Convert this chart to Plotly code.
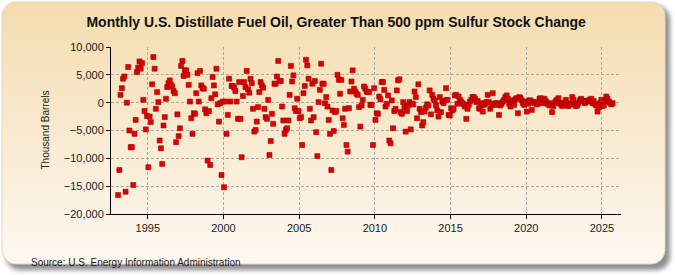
import base64
import pandas as pd
import plotly.graph_objects as go

# monthly stock change, thousand barrels (Jan 1993 onwards)
chg_1993_96 = [  # Jan 1993 - Apr 1996
    -16600, -12100, 1400, 2600, 4300, 4700, -16000, 0, 6400, -5000, -8000, -8000,
    -14800, -5600, -3100, 5500, 6300, 7400, 6100, 7100, 500, -1500, -4800, -2400,
    -11600, -2500, -3500, 3300, 8200, 6100, -1100, 1900, 100, -6800, -8200, -11000,
    -4100, -2600, 700, 2800,
]
chg_1996_00 = [  # May 1996 - Jan 2000
    3500, 4000, 3200, 2900, 2100, 1700, -7100, -2100, -6000, -4600,
    6600, 7500, 4800, 5800, 5800, 5000, 3200, 200, -2800, -5600,
    -1900, -2000, 1700, 5300, 200, 5700, 3100, 2600, 2500, -1200,
    -1900, -10400, -1500, -11200, 800, 4600, 3100, 1500, 6100, -300,
    -3400, -100, -13000, 200, -15200,
]
chg_2000_04 = [  # Feb 2000 - Feb 2004
    200, -5600, -2200, 4300, 200, 3000, 3000, 2700, 2100, 200,
    -2900, 3700, -2900, -9800, 1200, 3700, 2800, 5700, 2400, 1800,
    4300, 3500, -1100, -5200, -4900, -3400, -800, 1900, 3700, 3100,
    2700, -1100, -2600, -2900, 500, -9400, -6900, -2000, -3800, 3400,
    3400, 4700, 7500, 3900, 3900, -700, -3200, -5600, -4900,
]
chg_2004_07 = [  # Mar 2004 - Oct 2007
    -4600, -3200, 1400, 6600, 3800, 4900, -1000, -1500, 700, -1500,
    -2800, -2600, -7600, 1700, 3000, 7700, 6700, 4300, -1100, -3200,
    3400, -2600, 3900, -5300, -9600, 100, 2300, 7000, 3400, 3400,
    -100, 1000, -700, -3100, -5600, -12100, -1400, -5100, -1700, -1500,
    5000, 4100, 1600, 4100,
]
chg_2007_14 = [  # Nov 2007 - Nov 2014
    -2800, -4000, -1100, -7600, -8800, -1000, 2000, 3800, 5800, 2500,
    2000, 1600, 1400, -800, -4300, -500, 500, 2900, 2500, 2000,
    1900, 1900, -400, -400, -7600, 2600, -3100, -1900, -2000, 1100,
    600, 3700, 3700, 2300, -700, -200, 1300, -6800, -7300, 400,
    -4600, -1500, -1100, 2200, 4000, 4200, -1700, -2000, 100, -800,
    -5200, -1500, -500, 100, -4800, -200, -300, 2000, 1000, -2800,
    3300, -1100, -1700, -4100, -3500, -1600, -900, -300, -500, 2200,
    -2100, 1400, 700, 400, -500, -1400, -2500, 1000, -1700, 200,
    -100, 400, 2600, 500, -2200,
]
chg_2014_20 = [  # Dec 2014 - Apr 2020
    -2300, -1000, -1400, -1100, 1300, 1400, -200, 1100, 500, 200,
    -100, -300, -700, -2900, -1100, -400, 200, 500, 1000, 1000,
    700, 100, 300, -1000, -1100, -100, -1600, -400, -100, 100,
    1400, 100, -1100, -400, 1700, -300, -100, -400, -100, -2200,
    -500, -200, 200, 500, 1000, 1300, 700, -200, -700, 100,
    400, -400, 600, 800, -1900, 1000, 800, 400, -100, -400,
    200, -1600, -200, 400, 400,
]
chg_2020_25 = [  # May 2020 - Sep 2025
    -1300, 100, -100, 100, -300, -100, 700, 800, 400, -100,
    700, 300, -100, -300, -500, -100, -1700, -600, -100, 300,
    500, 800, -100, -300, -600, -100, 0, 500, -500, -600,
    -100, -300, 1000, 500, -300, -600, -500, -100, 400, 700,
    400, 300, -100, 100, 300, 400, 500, 700, -100, 300,
    -200, -500, -1600, -900, -100, 500, -600, -500, 300, 1100,
    700, 200, -100, -300, -100,
]

values = (chg_1993_96 + chg_1996_00 + chg_2000_04 + chg_2004_07
          + chg_2007_14 + chg_2014_20 + chg_2020_25)
dates = pd.date_range("1993-01-01", periods=len(values), freq="MS") + pd.Timedelta(days=14)

year_ticks = [1995, 2000, 2005, 2010, 2015, 2020, 2025]
y_ticks = [-20000, -15000, -10000, -5000, 0, 5000, 10000]

W, H = 675, 275
L, R, T, B = 111, 54, 47, 61
NARROW = "Liberation Sans Narrow, Arial Narrow, Liberation Sans, sans-serif"

# beige rounded panel with soft shadow, as an svg behind everything
panel_svg = f"""<svg xmlns='http://www.w3.org/2000/svg' width='{W}' height='{H}'>
<defs>
<linearGradient id='g' x1='0' y1='0' x2='0' y2='1'>
<stop offset='0' stop-color='#F5DCAE'/><stop offset='1' stop-color='#FDF8F1'/>
</linearGradient>
<filter id='s' x='-5%' y='-5%' width='110%' height='110%'><feGaussianBlur stdDeviation='2.5'/></filter>
</defs>
<rect x='6' y='6' width='664' height='264' rx='14' fill='#8c8c8c' filter='url(#s)'/>
<rect x='2' y='2' width='663' height='262' rx='14' fill='url(#g)' stroke='#e2d6c2'/>
</svg>"""
panel_src = "data:image/svg+xml;base64," + base64.b64encode(panel_svg.encode()).decode()

pw, ph = W - L - R, H - T - B

fig = go.Figure()
fig.add_trace(go.Scatter(
    x=dates, y=values, mode="markers",
    marker=dict(symbol="square", size=5, color="#E00000",
                line=dict(color="#9a0000", width=0.6)),
    showlegend=False, hoverinfo="x+y",
))

fig.update_layout(
    width=W, height=H,
    margin=dict(l=L, r=R, t=T, b=B),
    paper_bgcolor="white", plot_bgcolor="white",
    font=dict(family=NARROW, size=11, color="#222"),
    title=dict(text="<b>Monthly U.S. Distillate Fuel Oil, Greater Than 500 ppm Sulfur Stock Change</b>",
               x=0.498, xanchor="center", y=1 - 22 / H, yanchor="middle",
               font=dict(family=NARROW, size=14, color="#111")),
    images=[dict(source=panel_src, xref="paper", yref="paper",
                 x=-L / pw, y=1 + T / ph, sizex=W / pw, sizey=H / ph,
                 xanchor="left", yanchor="top", sizing="stretch", layer="below")],
    annotations=[
        dict(text="Thousand Barrels", xref="paper", yref="paper",
             x=(45 - L) / pw, y=0.5, xanchor="center", yanchor="middle",
             textangle=-90, showarrow=False,
             font=dict(family=NARROW, size=10, color="#222")),
        dict(text="Source: U.S. Energy Information Administration", xref="paper", yref="paper",
             x=(29 - L) / pw, y=-(262 - (H - B)) / ph, xanchor="left", yanchor="middle",
             showarrow=False, font=dict(family=NARROW, size=10, color="#222")),
    ],
)

fig.update_xaxes(
    type="date", range=["1992-07-28", "2026-04-05"],
    tickvals=[f"{y}-01-01" for y in year_ticks], ticktext=[str(y) for y in year_ticks],
    showgrid=True, gridcolor="#a8a8a8", griddash="3px,2px", gridwidth=1,
    showline=True, linecolor="black", linewidth=1,
    ticks="outside", ticklen=4, tickcolor="black", zeroline=False,
    tickfont=dict(size=11),
)
fig.update_yaxes(
    range=[-20000, 10000], tickvals=y_ticks, tickformat=",",
    showgrid=True, gridcolor="#a8a8a8", griddash="3px,2px", gridwidth=1,
    showline=True, linecolor="black", linewidth=1,
    ticks="outside", ticklen=4, tickcolor="black", zeroline=False,
    tickfont=dict(size=11),
)

# drop the default page margin so the figure sits at the window's corner
fig.write_html("out.html", config={"displayModeBar": False},
               post_script="document.body.style.margin='0';")
